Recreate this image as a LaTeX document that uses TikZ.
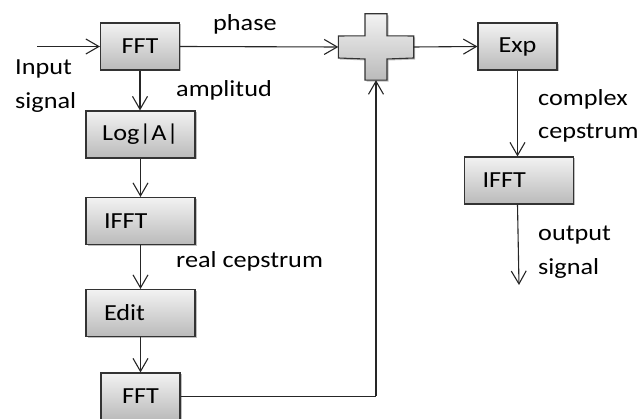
\documentclass[tikz,border=0pt]{standalone}
\usepackage{fontspec}
\setmainfont{Carlito}[FakeStretch=1.14]
\usetikzlibrary{arrows.meta,shadows}
\begin{document}
\begin{tikzpicture}[x=1pt,y=-1pt,
  font=\fontsize{23}{28}\selectfont,
  blk/.style={draw=black!80, line width=1.1pt, top color=black!5, bottom color=black!27,
    drop shadow={shadow xshift=1.5pt, shadow yshift=-1.5pt, opacity=0.25, fill=black},
    inner sep=0pt, minimum height=47pt},
  blkS/.style={blk, minimum width=79pt},
  blkW/.style={blk, minimum width=109pt},
  blkL/.style={blk, text width=73pt, inner xsep=18pt, align=left},
  lbl/.style={inner sep=0pt, anchor=base west},
  conn/.style={line width=1.1pt, draw=black!85, -{Straight Barb[length=13pt, width=15pt, line width=1.1pt]}},
  line/.style={line width=1.1pt, draw=black!85}
]
\useasboundingbox (0,0) rectangle (641,419);

% blocks
\node[blkS] (fft1) at (140,46.5) {FFT};
\node[blkW] (log) at (140.5,134.5) {Log|A|};
\node[blkL] (ifft1) at (140.5,221) {IFFT};
\node[blkL] (edit) at (140.5,313) {Edit};
\node[blkS] (fft2) at (140.5,396.5) {FFT};
\node[blkS] (exp) at (517.5,46.5) {Exp};
\node[blkL] (ifft2) at (519,180.5) {IFFT};

% plus shape
\node[minimum width=75pt, minimum height=66pt, inner sep=0pt] (plus) at (376,47) {};
\path[blk, line join=miter]
  ([xshift=-11pt]plus.north) -- ([xshift=11pt]plus.north)
  -- ([xshift=11pt,yshift=-22pt]plus.north) -- ([yshift=11pt]plus.east)
  -- ([yshift=-11pt]plus.east) -- ([xshift=11pt]plus.center |- 0,59)
  -- ([xshift=11pt]plus.south) -- ([xshift=-11pt]plus.south)
  -- ([xshift=-11pt]plus.center |- 0,59) -- ([yshift=-11pt]plus.west)
  -- ([yshift=11pt]plus.west) -- ([xshift=-11pt,yshift=-22pt]plus.north) -- cycle;

% coordinates for free ends
\coordinate (in) at (37,46.5);
\coordinate (out) at (519,285);
\coordinate (corner) at (plus.south |- fft2.east);

% connectors
\draw[conn] (in) -- (fft1.west);
\draw[conn] (fft1.east) -- (plus.west);
\draw[conn] (plus.east) -- (exp.west);
\draw[conn] (fft1.south) -- (fft1.south |- log.north);
\draw[conn] (log.south) -- (log.south |- ifft1.north);
\draw[conn] (ifft1.south) -- (ifft1.south |- edit.north);
\draw[conn] (edit.south) -- (edit.south |- fft2.north);
\draw[conn] (exp.south) -- (exp.south |- ifft2.north);
\draw[conn] (exp.south |- ifft2.south) -- (out);
\draw[line] (fft2.east) -- (corner);
\draw[conn] (corner) -- (plus.south);

% labels
\node[lbl] (inA) at (15,75) {Input};
\node[lbl] (inB) at (15,109) {signal};
\node[lbl] (phase) at (213,31) {phase};
\node[lbl] (ampl) at (176,97) {amplitud};
\node[lbl] (realc) at (176,268) {real cepstrum};
\node[lbl] (cxA) at (538,106) {complex};
\node[lbl] (cxB) at (538,139) {cepstrum};
\node[lbl] (outA) at (538,241) {output};
\node[lbl] (outB) at (538,275) {signal};
\end{tikzpicture}
\end{document}
